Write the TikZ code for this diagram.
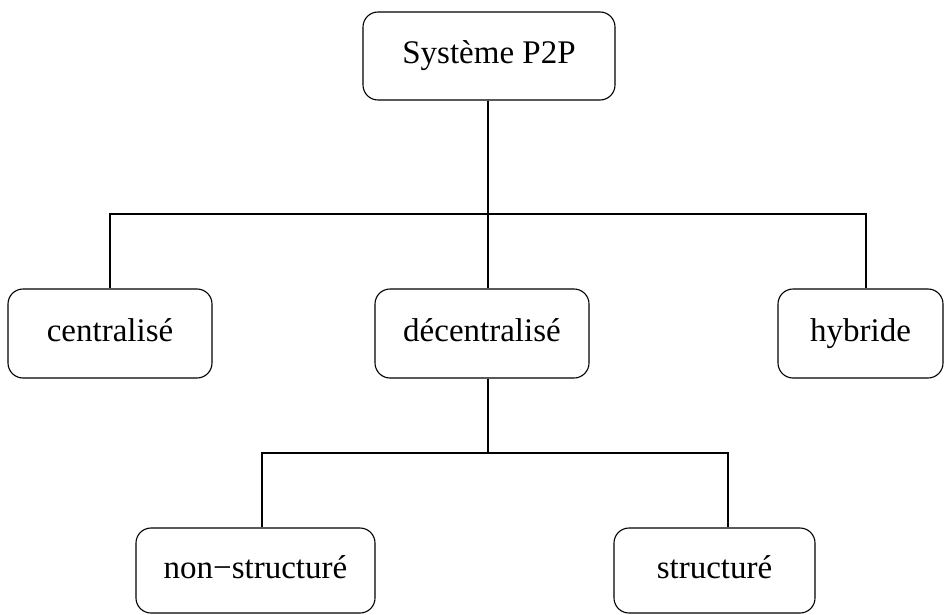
\documentclass[tikz,border=0pt]{standalone}
\usepackage{fontspec}
\setmainfont{Liberation Serif}
\begin{document}
\begin{tikzpicture}[x=1pt,y=-1pt,
  line width=1.1pt,
  box/.style={draw, rounded corners=15pt, inner sep=0pt,
    text height=23pt, text depth=7pt,
    font=\fontsize{33}{40}\selectfont},
  link/.style={draw, line width=1.1pt}]
\useasboundingbox (0,0) rectangle (944,615);

% boxes
\node[box, minimum width=252pt, minimum height=88pt] (sys) at (489,56) {Système P2P};
\node[box, minimum width=204pt, minimum height=89pt] (cen) at (110,333.5) {centralisé};
\node[box, minimum width=214pt, minimum height=89pt] (dec) at (482,333.5) {décentralisé};
\node[box, minimum width=165pt, minimum height=89pt] (hyb) at (860.5,333.5) {hybride};
\node[box, minimum width=239pt, minimum height=85pt] (ns) at (255.5,570.5) {non−structuré};
\node[box, minimum width=201pt, minimum height=85pt] (st) at (714.5,570.5) {structuré};

% first-level bus
\coordinate (bL) at (110,214);
\coordinate (bM) at (488,214);
\coordinate (bR) at (866,214);
\path[link] (sys.south -| bM) -- (bM);
\path[link] (bL |- cen.north) -- (bL) -- (bR) -- (bR |- hyb.north);
\path[link] (bM) -- (bM |- dec.north);

% second-level bus
\coordinate (sL) at (262,453);
\coordinate (sM) at (488,453);
\coordinate (sR) at (728,453);
\path[link] (dec.south -| sM) -- (sM);
\path[link] (sL |- ns.north) -- (sL) -- (sR) -- (sR |- st.north);
\end{tikzpicture}
\end{document}
